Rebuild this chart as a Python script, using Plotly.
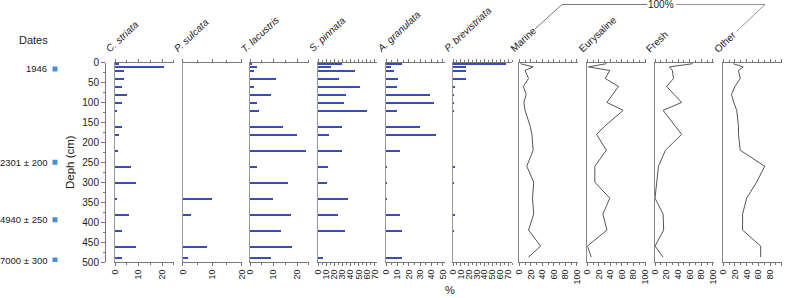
import plotly.graph_objects as go

# ---------------- data ----------------
DEPTHS = [3, 11, 20, 40, 60, 80, 100, 120, 160, 180, 220, 260, 300, 340, 380, 420, 460, 488]

C_STRIATA = [1.7, 21, 3.8, 3.8, 3.0, 5.0, 3.0, 1.0, 3.0, 1.8, 1.4, 6.8, 8.9, 1.0, 6.0, 3.0, 8.9, 3.0]
P_SULCATA = [0, 0, 0, 0, 0, 0, 0, 0, 0, 0, 0, 0, 0, 9.8, 2.7, 0, 8.1, 1.7]
T_LACUSTRIS = [1.0, 2.8, 1.7, 10.9, 1.7, 8.8, 2.8, 3.8, 13.9, 20.1, 23.7, 3.1, 16.0, 9.9, 17.3, 13.2, 18.0, 8.9]
S_PINNATA = [29.9, 15.6, 45.0, 26.2, 52.0, 34.0, 31.7, 59.8, 29.9, 13.9, 29.9, 12.7, 10.7, 36.5, 24.2, 33.2, 0, 5.7]
A_GRANULATA = [14.3, 4.1, 7.2, 10.2, 9.4, 38.6, 42.4, 9.4, 30.0, 43.6, 12.3, 0.6, 0.6, 0.6, 12.3, 13.7, 0, 14.3]
P_BREVISTRIATA = [68, 17, 17, 17, 2.5, 1.0, 1.0, 1.0, 0, 0, 0, 2.5, 1.0, 0, 1.7, 1.0, 0, 0]

MARINE = [2, 24, 10, 16, 7, 12, 8, 10, 19, 22, 24, 13, 25, 23, 25, 16, 37, 16]
EURYSALINE = [33, 2, 39, 31, 54, 44, 34, 62, 30, 16, 33, 13, 13, 39, 27, 34, 0, 7]
FRESH = [65, 25, 30, 32, 20, 33, 46, 14, 35, 46, 18, 6, 3, 0, 14, 15, 0, 14]
OTHER = [17, 34, 26, 29, 20, 14, 18, 23, 26, 26, 29, 71, 57, 40, 33, 33, 64, 64]

PANEL_TITLES = ["C. striata", "P. sulcata", "T. lacustris", "S. pinnata", "A. granulata",
                "P. brevistriata", "Marine", "Eurysaline", "Fresh", "Other"]
PANEL_VALUES = [C_STRIATA, P_SULCATA, T_LACUSTRIS, S_PINNATA, A_GRANULATA,
                P_BREVISTRIATA, MARINE, EURYSALINE, FRESH, OTHER]

DATE_LABELS = ["1946", "2301 ± 200", "4940 ± 250", "7000 ± 300"]
DATE_DEPTHS = [16, 250, 394, 495]

DEPTH_TICKS = list(range(0, 501, 50))

# ---------------- layout helpers ----------------
W, H = 786, 298
FONT = "Liberation Sans, Arial, Helvetica, sans-serif"
BLUE = "#3a4cb6"
AXC = "#777777"


def px(x):
    return x / W


def py(y):
    return 1 - y / H


Y_TOP, Y_BOT = 62.5, 262.0
YDOM = [py(Y_BOT), py(Y_TOP)]

# (left px, right px, axis max, kind, dtick, minor dtick)
PANELS = [
    (115.0, 173.8, 25, "bar", 10, 5),
    (182.7, 241.7, 20, "bar", 10, 5),
    (250.0, 308.8, 25, "bar", 10, 5),
    (318.0, 377.0, 72.5, "bar", 10, 5),
    (386.0, 445.0, 51.8, "bar", 10, 5),
    (453.0, 512.0, 75, "bar", 10, 5),
    (519.3, 578.0, 102, "line", 20, 10),
    (587.3, 646.0, 101.7, "line", 20, 10),
    (655.0, 714.0, 102, "line", 20, 10),
    (723.3, 782.0, 100.5, "line", 20, 10),
]

fig = go.Figure()
layout = dict(
    width=W, height=H,
    margin=dict(l=0, r=0, t=0, b=0),
    paper_bgcolor="white", plot_bgcolor="white",
    showlegend=False,
    font=dict(family=FONT, color="#222", size=10),
    bargap=0,
)

# main depth axis (free, at x=105px) used by the dates trace
layout["yaxis"] = dict(
    domain=YDOM, range=[500, 0], anchor="free", position=px(105),
    showline=True, linecolor=AXC, linewidth=1,
    ticks="outside", ticklen=4, tickcolor=AXC, tickvals=DEPTH_TICKS,
    minor=dict(tickvals=[d + 25 for d in DEPTH_TICKS[:-1]], ticks="outside", ticklen=2, tickcolor=AXC),
    tickfont=dict(size=10, color="#222"), showgrid=False, zeroline=False, automargin=False,
)
layout["xaxis11"] = dict(domain=[0, px(100)], range=[0, 100], visible=False, anchor="y")

fig.add_trace(go.Scatter(
    x=[55] * len(DATE_DEPTHS), y=DATE_DEPTHS, mode="markers",
    marker=dict(symbol="square", size=5, color="#4a8fd6"),
    xaxis="x11", yaxis="y", hoverinfo="skip",
))

annotations = []
for lab, d in zip(DATE_LABELS, DATE_DEPTHS):
    annotations.append(dict(
        text=lab, xref="paper", yref="y", x=px(49), y=d, xanchor="right", yanchor="middle",
        showarrow=False, font=dict(size=9.5, color="#222"), xshift=0,
    ))

for i, ((x0, x1, xmax, kind, dt, mdt), title, vals) in enumerate(zip(PANELS, PANEL_TITLES, PANEL_VALUES), start=1):
    xa = "x" if i == 1 else f"x{i}"
    ya = f"y{i + 1}"
    layout["xaxis" if i == 1 else f"xaxis{i}"] = dict(
        domain=[px(x0), px(x1)], range=[0, xmax], anchor=ya, side="bottom",
        showline=True, mirror="ticks", linecolor=AXC, linewidth=1,
        ticks="outside", ticklen=3, tickcolor=AXC, tickmode="linear", tick0=0, dtick=dt,
        minor=dict(dtick=mdt, ticks="outside", ticklen=2, tickcolor=AXC),
        tickangle=-90, tickfont=dict(size=9, color="#222"),
        showgrid=False, zeroline=False, automargin=False,
    )
    layout[f"yaxis{i + 1}"] = dict(
        domain=YDOM, range=[500, 0], anchor=xa,
        showline=True, linecolor="#999999" if kind == "bar" else "#888888", linewidth=1.3,
        ticks="", showticklabels=False, showgrid=False, zeroline=False, automargin=False,
    )
    if kind == "bar":
        fig.add_trace(go.Bar(
            x=vals, y=DEPTHS, orientation="h", width=5,
            marker=dict(color=BLUE, line=dict(width=0)),
            xaxis=xa, yaxis=ya, hoverinfo="skip",
        ))
    else:
        fig.add_trace(go.Scatter(
            x=vals, y=DEPTHS, mode="lines", line=dict(color="#555555", width=1),
            xaxis=xa, yaxis=ya, hoverinfo="skip",
        ))
    italic = kind == "bar"
    annotations.append(dict(
        text=f"<i>{title}</i>" if italic else title,
        xref="paper", yref="paper", x=px(x0 - 14), y=py(57),
        xanchor="left", yanchor="bottom", textangle=-43, showarrow=False,
        font=dict(size=10, color="#222"),
    ))

# titles and labels
annotations += [
    dict(text="Dates", xref="paper", yref="paper", x=px(33), y=py(40), xanchor="center", yanchor="middle",
         showarrow=False, font=dict(size=11, color="#222")),
    dict(text="Deph (cm)", xref="paper", yref="paper", x=px(70), y=py(162), xanchor="center", yanchor="middle",
         textangle=-90, showarrow=False, font=dict(size=11.5, color="#222")),
    dict(text="%", xref="paper", yref="paper", x=px(450), y=py(290), xanchor="center", yanchor="middle",
         showarrow=False, font=dict(size=11, color="#222")),
    dict(text="100%", xref="paper", yref="paper", x=px(661), y=py(4.5), xanchor="center", yanchor="middle",
         showarrow=False, font=dict(size=10, color="#222")),
]
layout["annotations"] = annotations

# 100% bracket
def path(points):
    return " ".join(("M" if k == 0 else "L") + f" {px(x):.5f},{py(y):.5f}" for k, (x, y) in enumerate(points))

layout["shapes"] = [
    dict(type="path", xref="paper", yref="paper", path=path([(535, 29), (562, 4.5), (647, 4.5)]),
         line=dict(color="#555", width=0.8)),
    dict(type="path", xref="paper", yref="paper", path=path([(676, 4.5), (765, 4.5), (737, 31)]),
         line=dict(color="#777", width=0.8)),
]

fig.update_layout(**layout)
fig.write_html(
    "out.html",
    config={"displayModeBar": False},
    post_script="document.body.style.margin='0';document.body.style.overflow='hidden';",
)
